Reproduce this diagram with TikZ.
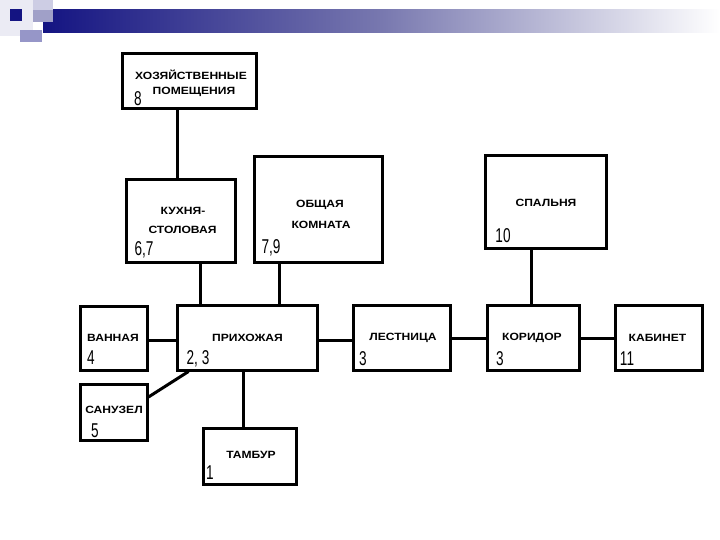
\documentclass[tikz,border=0pt]{standalone}
\usepackage{fontspec}
\setmainfont{Liberation Sans}
\usetikzlibrary{calc}
\definecolor{navy}{RGB}{20,20,130}
\definecolor{palelav}{RGB}{205,205,228}
\definecolor{midlav}{RGB}{150,150,200}
\definecolor{faint}{RGB}{235,235,244}
\definecolor{barmid}{RGB}{120,120,175}
\definecolor{overlap}{RGB}{160,160,200}
\tikzset{
  room/.style={draw=black, line width=3pt, fill=white, inner sep=0pt},
  conn/.style={draw=black, line width=3pt},
  lbl/.style={font=\fontsize{10.5}{10.5}\selectfont\bfseries, xscale=1.15, inner sep=0pt},
  num/.style={font=\fontsize{20}{20}\selectfont, xscale=0.68, inner sep=0pt},
}
\begin{document}
\begin{tikzpicture}[x=1pt, y=-1pt]
\useasboundingbox (0,0) rectangle (720,540);
\fill[white] (0,0) rectangle (720,540);
% header decoration
\fill[faint] (0,0) rectangle (33,36);
\shade[left color=navy, right color=white, middle color=barmid, shading angle=90] (43,10) rectangle (720,33);
\fill[palelav] (33,0) rectangle (53,22);
\fill[overlap] (33,10) rectangle (53,22);
\fill[midlav] (20,30) rectangle (42,42);
\fill[navy] (10,9) rectangle (22,21);

% rooms
\node[room, minimum width=134pt, minimum height=55pt] (hoz) at (189,81.5) {};
\node[room, minimum width=109pt, minimum height=82pt] (kit) at (180.5,221) {};
\node[room, minimum width=128pt, minimum height=105pt] (obsh) at (318,209.5) {};
\node[room, minimum width=121pt, minimum height=92pt] (spal) at (545.5,202) {};
\node[room, minimum width=67pt, minimum height=64pt] (vann) at (113.5,338) {};
\node[room, minimum width=140pt, minimum height=65pt] (prih) at (247,337.5) {};
\node[room, minimum width=67pt, minimum height=56pt] (san) at (113.5,412) {};
\node[room, minimum width=97pt, minimum height=65pt] (lest) at (401.5,337.5) {};
\node[room, minimum width=92pt, minimum height=65pt] (kor) at (533,337.5) {};
\node[room, minimum width=87pt, minimum height=65pt] (kab) at (658.5,337.5) {};
\node[room, minimum width=93pt, minimum height=56pt] (tam) at (249.5,456) {};

% connectors
\draw[conn] ([xshift=-12pt]hoz.south) -- ([xshift=-3.5pt]kit.north);
\draw[conn] ([xshift=19.5pt]kit.south) -- ([xshift=-47pt]prih.north);
\draw[conn] ([xshift=-39pt]obsh.south) -- ([xshift=32pt]prih.north);
\draw[conn] ([xshift=-14pt]spal.south) -- ([xshift=-1.5pt]kor.north);
\draw[conn] ([yshift=-2pt]vann.east) -- ([yshift=-2.5pt]prih.west);
\draw[conn] ([yshift=-2.5pt]prih.east) -- ([yshift=-2.5pt]lest.west);
\draw[conn] ([yshift=-0.5pt]lest.east) -- ([yshift=-0.5pt]kor.west);
\draw[conn] ([yshift=-0.5pt]kor.east) -- ([yshift=-0.5pt]kab.west);
\draw[conn] ([xshift=-4pt]prih.south) -- ([xshift=-6.5pt]tam.north);
\draw[conn] ([yshift=15pt]san.east) -- ([xshift=13pt]prih.south west);

% labels
\node[lbl] (thoz1) at (191,75) {ХОЗЯЙСТВЕННЫЕ};
\node[lbl] (thoz2) at (194,92) {ПОМЕЩЕНИЯ};
\node[num] (nhoz) at (138,99) {8};
\node[lbl] (tkit1) at (183,211) {КУХНЯ-};
\node[lbl] (tkit2) at (182.5,230) {СТОЛОВАЯ};
\node[num] (nkit) at (144,250) {6,7};
\node[lbl] (tobsh1) at (320,205) {ОБЩАЯ};
\node[lbl] (tobsh2) at (321,225) {КОМНАТА};
\node[num] (nobsh) at (271,248) {7,9};
\node[lbl] (tspal) at (546,203) {СПАЛЬНЯ};
\node[num] (nspal) at (503,236) {10};
\node[lbl] (tvann) at (113,338) {ВАННАЯ};
\node[num] (nvann) at (91,358) {4};
\node[lbl] (tprih) at (247.5,338) {ПРИХОЖАЯ};
\node[num] (nprih) at (198,359) {2, 3};
\node[lbl] (tsan) at (114,410) {САНУЗЕЛ};
\node[num] (nsan) at (95,431) {5};
\node[lbl] (tlest) at (403,338) {ЛЕСТНИЦА};
\node[num] (nlest) at (363,359) {3};
\node[lbl] (tkor) at (532,338) {КОРИДОР};
\node[num] (nkor) at (500,359) {3};
\node[lbl] (tkab) at (657.5,338) {КАБИНЕТ};
\node[num] (nkab) at (627,359) {11};
\node[lbl] (ttam) at (251,455) {ТАМБУР};
\node[num] (ntam) at (210,473) {1};
\end{tikzpicture}
\end{document}
